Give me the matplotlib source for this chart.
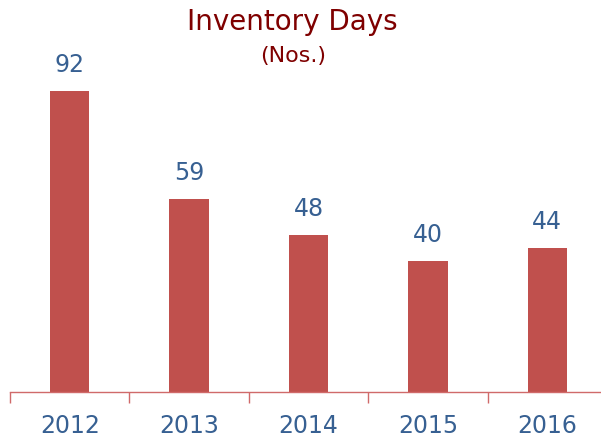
import matplotlib.pyplot as plt
from matplotlib.ticker import FixedLocator

years = ['2012', '2013', '2014', '2015', '2016']
inventory_days = [92, 59, 48, 40, 44]

bar_color = '#C0504D'
label_color = '#376092'
title_color = '#7F0000'
axis_color = '#D06A6A'

fig = plt.figure(figsize=(6.01, 4.39), dpi=100)
ax = fig.add_axes([10 / 601, 46 / 439, 597 / 601, 327 / 439])

x = list(range(len(years)))
ax.bar(x, inventory_days, width=0.33, color=bar_color)

# Value labels above bars
for xi, v in zip(x, inventory_days):
    ax.annotate(str(v), (xi, v), xytext=(0, 11), textcoords='offset points',
                ha='center', va='bottom', fontsize=17, color=label_color)

ax.set_xlim(-0.5, len(years) - 0.5)
ax.set_ylim(0, 100)

for side in ['top', 'right', 'left']:
    ax.spines[side].set_visible(False)
ax.spines['bottom'].set_color(axis_color)
ax.spines['bottom'].set_linewidth(1.0)
ax.set_yticks([])

# Tick marks between categories, labels at centers
ax.xaxis.set_major_locator(FixedLocator([i - 0.5 for i in range(len(years) + 1)]))
ax.tick_params(axis='x', which='major', length=8, color=axis_color, width=1.0,
               labelbottom=False)
ax.set_xticks(x, minor=True)
ax.set_xticklabels(years, minor=True)
ax.tick_params(axis='x', which='minor', length=0, pad=15, labelsize=17,
               labelcolor=label_color)

fig.text(0.486, 0.95, 'Inventory Days', ha='center', va='center',
         fontsize=20, color=title_color)
fig.text(0.487, 0.872, '(Nos.)', ha='center', va='center',
         fontsize=16, color=title_color)

fig.savefig('out.png', dpi=100)
